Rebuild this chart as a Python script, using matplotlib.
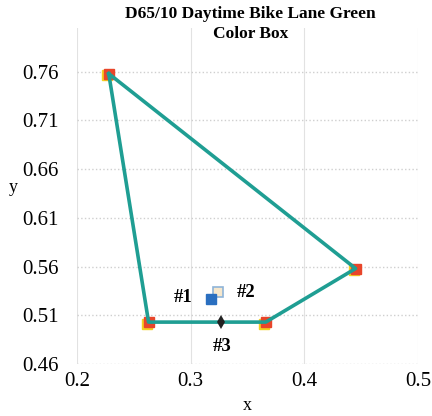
import matplotlib.pyplot as plt

# vertices of the colour box (closed polygon)
box_x = [0.228, 0.445, 0.366, 0.263, 0.228]
box_y = [0.758, 0.558, 0.503, 0.503, 0.758]

# measured samples
sample_names = ['#1', '#2', '#3']
sample_x = [0.318, 0.324, 0.327]
sample_y = [0.527, 0.534, 0.503]

xticks = [0.2, 0.3, 0.4, 0.5]
yticks = [0.46, 0.51, 0.56, 0.61, 0.66, 0.71, 0.76]

plt.rcParams['font.family'] = ['Liberation Serif', 'DejaVu Serif']

fig = plt.figure(figsize=(4.32, 4.16), dpi=100)
ax = fig.add_axes([0.178, 0.125, 0.79, 0.808])

ax.plot(box_x, box_y, color='#1f9e93', lw=2.6, zorder=3)
# vertex markers: yellow square peeking out behind a red one
ax.plot([v - 0.0015 for v in box_x[:-1]], [v - 0.0015 for v in box_y[:-1]], 's',
        ms=7, color='#f4d020', zorder=2)
ax.plot(box_x[:-1], box_y[:-1], 's', ms=7, color='#e8452a', zorder=2.5)

ax.plot(sample_x[1], sample_y[1], 's', ms=7, mfc='#f6e7cc', mec='#8fb4d8',
        mew=1.2, zorder=5)
ax.plot(sample_x[0], sample_y[0], 's', ms=7, color='#2a6fc0', zorder=6)
ax.plot(sample_x[2], sample_y[2], 'd', ms=7, color='#222222', mew=0,
        zorder=6)

ax.text(0.293, 0.528, sample_names[0], fontsize=13.5, fontweight='bold',
        ha='center', va='center')
ax.text(0.349, 0.533, sample_names[1], fontsize=13.5, fontweight='bold',
        ha='center', va='center')
ax.text(0.328, 0.478, sample_names[2], fontsize=13.5, fontweight='bold',
        ha='center', va='center')

ax.set_xlim(0.2, 0.5)
ax.set_ylim(0.46, 0.805)
ax.set_xticks(xticks)
ax.set_xticklabels([f'{v:.1f}' for v in xticks])
ax.set_yticks(yticks)
ax.set_yticklabels([f'{v:.2f}' for v in yticks])
ax.tick_params(length=0, labelsize=15, pad=13)
ax.tick_params(axis='x', pad=6)
ax.grid(True, axis='x', color='#e2e2e2', ls='-', lw=0.8)
ax.grid(True, axis='y', color='#cfcfcf', ls=':', lw=1.0)
for s in ax.spines.values():
    s.set_visible(False)

fig.text(247 / 432, 1 - 405 / 416, 'x', fontsize=13, ha='center', va='center')
fig.text(13 / 432, 1 - 188 / 416, 'y', fontsize=13, ha='center', va='center')
fig.text(0.58, 1 - 6 / 416, 'D65/10 Daytime Bike Lane Green\nColor Box',
         fontsize=12.5, fontweight='bold', ha='center', va='top',
         linespacing=1.3)

fig.savefig('out.png', dpi=100)
